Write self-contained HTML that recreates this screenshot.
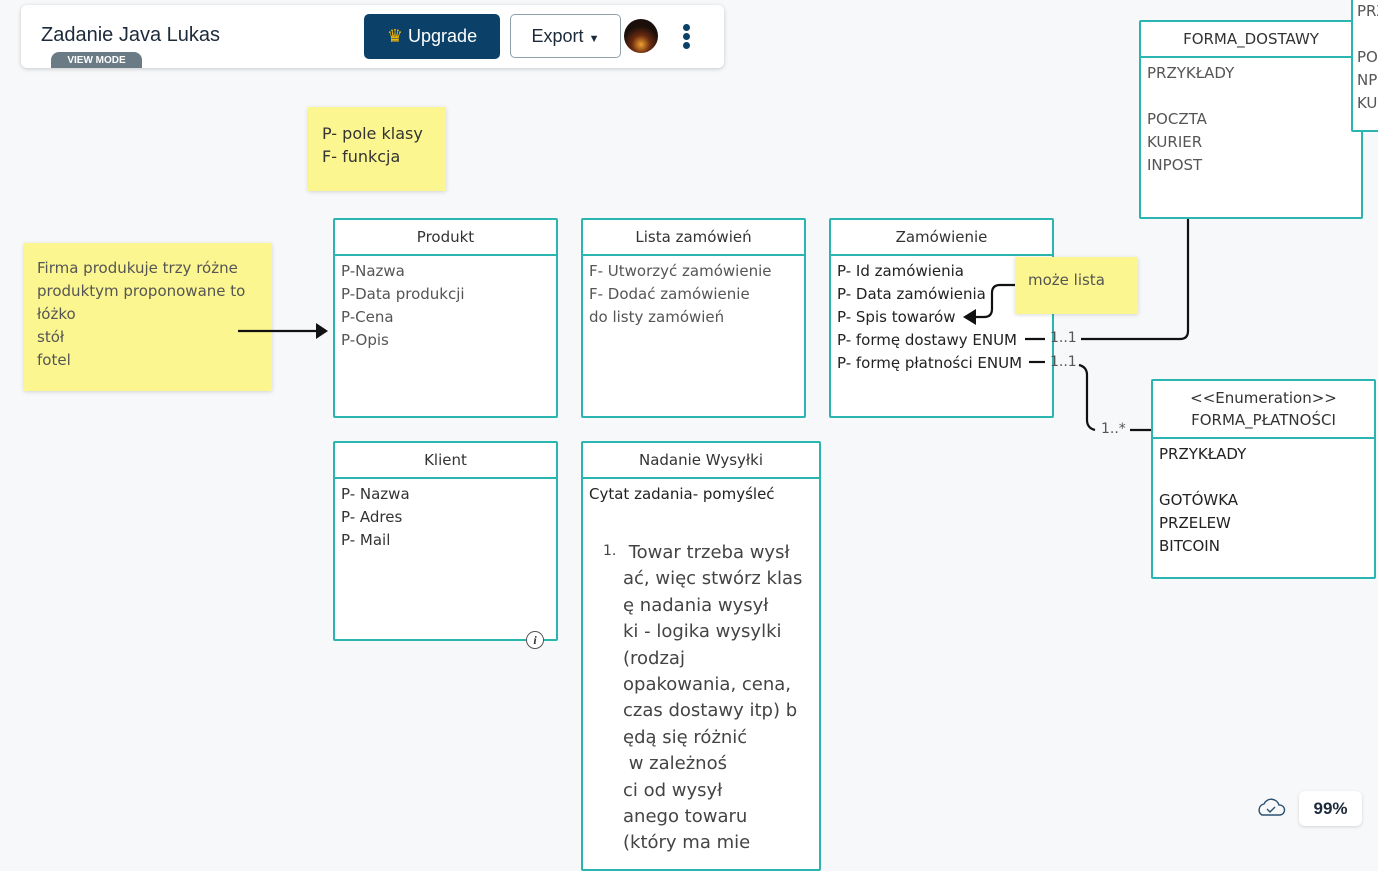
<!DOCTYPE html>
<html><head><meta charset="utf-8"><style>
body{margin:0;width:1378px;height:856px;background:#f7f8fa;position:relative;overflow:hidden;font-family:"DejaVu Sans","Liberation Sans",sans-serif;}
.box{position:absolute;background:#fff;border:2px solid #2bb5b0;border-radius:2px;box-sizing:border-box;}
.hd{border-bottom:2px solid #2bb5b0;text-align:center;font-size:15px;color:#333;box-sizing:border-box;display:flex;flex-direction:column;justify-content:center;}
.bd{padding:4px 6px;font-size:15px;line-height:23px;color:#555;white-space:pre;}
.note{position:absolute;background:#fbf68f;box-shadow:0 1px 4px rgba(0,0,0,.15);font-size:15px;line-height:23px;color:#444;white-space:pre;box-sizing:border-box;}
.t{position:absolute;font-size:14px;color:#555;}
</style></head><body>
<div style="position:absolute;left:21px;top:5px;width:703px;height:63px;background:#fff;border-radius:6px;box-shadow:0 1px 4px rgba(0,0,0,.2)"></div>
<div style="position:absolute;left:41px;top:24px;font-family:'Liberation Sans',sans-serif;font-size:20px;color:#1c2a3a">Zadanie Java Lukas</div>
<div style="position:absolute;left:51px;top:52px;width:91px;height:16px;background:#6b7b85;border-radius:8px 8px 0 0;color:#fff;font-family:'Liberation Sans',sans-serif;font-size:10px;font-weight:bold;text-align:center;line-height:18px">VIEW MODE</div>
<div style="position:absolute;left:364px;top:14px;width:136px;height:45px;background:#0b4068;border-radius:5px;color:#fff;font-family:'Liberation Sans',sans-serif;font-size:18px;line-height:45px;text-align:center"><span style="color:#f2b705">♛</span> Upgrade</div>
<div style="position:absolute;left:510px;top:14px;width:111px;height:44px;border:1px solid #8fa0ad;border-radius:5px;box-sizing:border-box;color:#1c2a3a;font-family:'Liberation Sans',sans-serif;font-size:18px;line-height:42px;text-align:center">Export <span style="font-size:11px">▼</span></div>
<div style="position:absolute;left:624px;top:19px;width:34px;height:34px;border-radius:50%;background:radial-gradient(circle at 50% 75%,#f0a030 0,#6a2a10 30%,#1a0f0a 60%)"></div>
<div style="position:absolute;left:683px;top:24px;width:7px;height:7px;border-radius:50%;background:#0b4068;box-shadow:0 9px 0 #0b4068,0 18px 0 #0b4068"></div>

<div class="note" style="left:308px;top:107px;width:138px;height:84px;padding:15px 14px;font-size:16px;color:#333">P- pole klasy
F- funkcja</div>
<div class="note" style="left:24px;top:243px;width:248px;height:148px;padding:14px 13px;color:#555">Firma produkuje trzy różne
produktym proponowane to
łóżko
stół
fotel</div>

<div class="box" style="left:333px;top:218px;width:225px;height:200px"><div class="hd" style="height:36px">Produkt</div><div class="bd">P-Nazwa
P-Data produkcji
P-Cena
P-Opis</div></div>
<div class="box" style="left:581px;top:218px;width:225px;height:200px"><div class="hd" style="height:36px">Lista zamówień</div><div class="bd">F- Utworzyć zamówienie
F- Dodać zamówienie
do listy zamówień</div></div>
<div class="box" style="left:829px;top:218px;width:225px;height:200px"><div class="hd" style="height:36px">Zamówienie</div><div class="bd" style="color:#222">P- Id zamówienia
P- Data zamówienia
P- Spis towarów
P- formę dostawy ENUM
P- formę płatności ENUM</div></div>
<div class="box" style="left:333px;top:441px;width:225px;height:200px"><div class="hd" style="height:36px">Klient</div><div class="bd" style="color:#333">P- Nazwa
P- Adres
P- Mail</div></div>
<div style="position:absolute;left:526px;top:631px;width:18px;height:18px;border-radius:50%;background:#fff;border:1px solid #555;box-sizing:border-box;font-size:12px;font-style:italic;font-weight:bold;text-align:center;line-height:16px;color:#333;font-family:'Liberation Serif',serif">i</div>
<div class="box" style="left:581px;top:441px;width:240px;height:430px"><div class="hd" style="height:36px">Nadanie Wysyłki</div>
<div class="bd" style="color:#222">Cytat zadania- pomyśleć</div>
<div style="position:absolute;left:20px;top:100px;font-size:14px;color:#444">1.</div>
<div style="position:absolute;left:40px;top:97px;font-size:18px;line-height:26.4px;color:#444;white-space:pre"> Towar trzeba wysł
ać, więc stwórz klas
ę nadania wysył
ki - logika wysylki
(rodzaj
opakowania, cena,
czas dostawy itp) b
ędą się różnić
 w zależnoś
ci od wysył
anego towaru
(który ma mie</div></div>

<div class="box" style="left:1139px;top:20px;width:224px;height:199px"><div class="hd" style="height:36px">FORMA_DOSTAWY</div><div class="bd">PRZYKŁADY

POCZTA
KURIER
INPOST</div></div>
<div class="box" style="left:1351px;top:-10px;width:40px;height:142px;overflow:hidden"><div class="bd" style="padding:8px 4px;line-height:23px">PRZ

PO
NP
KU</div></div>
<div class="box" style="left:1151px;top:379px;width:225px;height:200px"><div class="hd" style="height:58px;line-height:22px">&lt;&lt;Enumeration&gt;&gt;<br>FORMA_PŁATNOŚCI</div><div class="bd" style="color:#222">PRZYKŁADY

GOTÓWKA
PRZELEW
BITCOIN</div></div>

<div class="note" style="left:1015px;top:257px;width:123px;height:57px;padding:12px 13px;color:#555">może lista</div>

<svg style="position:absolute;left:0;top:0" width="1378" height="856">
<g fill="none" stroke="#111" stroke-width="2.2">
<path d="M238 331 H318"/>
<path d="M1015 285 H1000 Q992 285 992 293 V309 Q992 317 984 317 H975"/>
<path d="M1025 339 H1045"/><path d="M1081 339 H1180 Q1188 339 1188 331 V219"/>
<path d="M1029 362 H1045"/><path d="M1079 365 Q1087 367 1087 375 V420 Q1087 428 1095 430"/><path d="M1130 430 H1151"/>
</g>
<path d="M328 331 L316 323 L316 339 Z" fill="#111"/>
<path d="M963 317 L976 309 L976 325 Z" fill="#111"/>
</svg>
<div class="t" style="left:1050px;top:330px">1..1</div>
<div class="t" style="left:1050px;top:354px">1..1</div>
<div class="t" style="left:1101px;top:421px">1..*</div>

<svg style="position:absolute;left:1256px;top:796px" width="30" height="22"><path d="M6 19 H24 A5 5 0 0 0 23 9 A8 8 0 0 0 8 8 A6 6 0 0 0 6 19 Z" fill="none" stroke="#2a5070" stroke-width="1.4"/><path d="M11 13 L14 16 L19 11" fill="none" stroke="#2a5070" stroke-width="1.4"/></svg>
<div style="position:absolute;left:1299px;top:791px;width:63px;height:35px;background:#fff;border-radius:6px;box-shadow:0 1px 3px rgba(0,0,0,.15);font-family:'Liberation Sans',sans-serif;font-weight:bold;font-size:17px;color:#1c2a3a;text-align:center;line-height:35px">99%</div>
</body></html>
